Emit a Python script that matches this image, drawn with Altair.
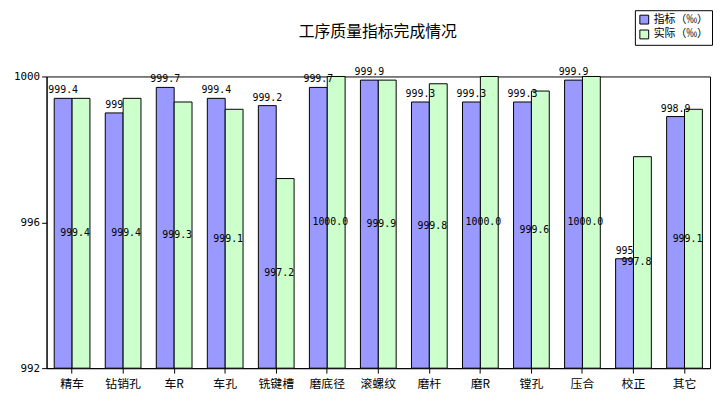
import altair as alt
import pandas as pd

categories = ["精车", "钻销孔", "车R", "车孔", "铣键槽", "磨底径", "滚螺纹", "磨杆", "磨R", "镗孔", "压合", "校正", "其它"]
target = [999.4, 999.0, 999.7, 999.4, 999.2, 999.7, 999.9, 999.3, 999.3, 999.3, 999.9, 995.0, 998.9]
target_labels = ["999.4", "999", "999.7", "999.4", "999.2", "999.7", "999.9", "999.3", "999.3", "999.3", "999.9", "995", "998.9"]
actual = [999.4, 999.4, 999.3, 999.1, 997.2, 1000.0, 999.9, 999.8, 1000.0, 999.6, 1000.0, 997.8, 999.1]
actual_labels = ["999.4", "999.4", "999.3", "999.1", "997.2", "1000.0", "999.9", "999.8", "1000.0", "999.6", "1000.0", "997.8", "999.1"]
series = ["指标（‰）", "实际（‰）"]
title = "工序质量指标完成情况"

rows = []
for i, c in enumerate(categories):
    rows.append({"cat": c, "series": series[0], "value": target[i], "label": target_labels[i], "mid": target[i]})
    rows.append({"cat": c, "series": series[1], "value": actual[i], "label": actual_labels[i], "mid": (actual[i] + 992) / 2})
df = pd.DataFrame(rows)

font = "Noto Sans CJK SC"
x = alt.X("cat:N", sort=categories, title=None,
          scale=alt.Scale(paddingInner=0.3, paddingOuter=0.15),
          axis=alt.Axis(labelAngle=0, labelFont=font, labelFontSize=12, labelColor="black",
                        domainColor="black", tickColor="black", labelPadding=6))
y_scale = alt.Scale(domain=[992, 1000], zero=False, clamp=True, nice=False)
xoff = alt.XOffset("series:N", sort=series, scale=alt.Scale(domain=series))

base = alt.Chart(df)
bars = base.mark_bar(stroke="black", strokeWidth=1).encode(
    x=x,
    xOffset=xoff,
    y=alt.Y("value:Q", scale=y_scale, title=None,
            axis=alt.Axis(values=[992, 996, 1000], format="d", grid=False, labelFont="DejaVu Sans Mono",
                          labelFontSize=11, labelColor="black", domainColor="black", tickColor="black")),
    y2=alt.datum(992),
    color=alt.Color("series:N", sort=series,
                    scale=alt.Scale(domain=series, range=["#9999FF", "#CCFFCC"]),
                    legend=alt.Legend(title=None, orient="none", legendX=595, legendY=-67,
                                      symbolType="square", symbolStrokeColor="black", symbolStrokeWidth=1,
                                      symbolSize=80, labelFont=font, labelFontSize=11,
                                      strokeColor="black", padding=4, fillColor="white", rowPadding=2)),
)

top_text = base.transform_filter(alt.datum.series == series[0]).mark_text(
    font="DejaVu Sans Mono", fontSize=10, dy=-8, color="black"
).encode(x=x, xOffset=xoff, y=alt.Y("value:Q", scale=y_scale), text="label:N")

mid_text = base.transform_filter(alt.datum.series == series[1]).mark_text(
    font="DejaVu Sans Mono", fontSize=10, dx=-6, color="black"
).encode(x=x, xOffset=xoff, y=alt.Y("mid:Q", scale=y_scale), text="label:N")

title_text = alt.Chart(pd.DataFrame({"t": [title]})).mark_text(
    font=font, fontSize=16, color="black"
).encode(x=alt.value(335), y=alt.value(-45), text="t:N")

chart = alt.layer(bars, top_text, mid_text, title_text).properties(
    width=671, height=295,
    autosize=alt.AutoSizeParams(type="none"),
    padding={"left": 39, "top": 67, "right": 3, "bottom": 34},
).configure_view(stroke="black", strokeWidth=1)

chart.save("out.html", embed_options={"renderer": "svg", "actions": False})
